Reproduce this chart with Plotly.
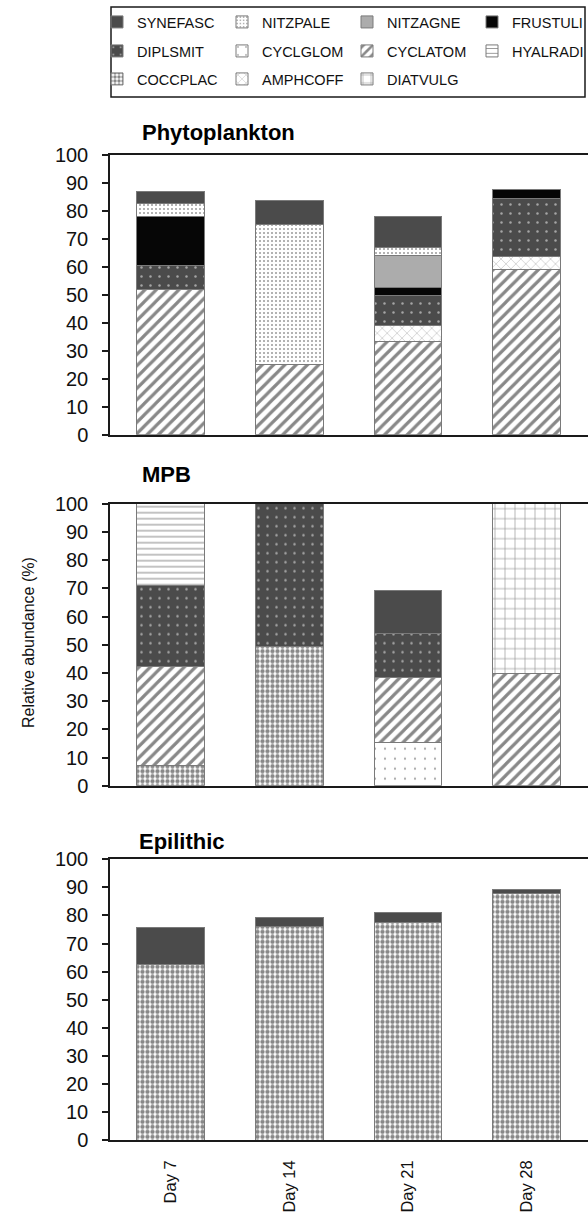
import plotly.graph_objects as go

DAYS = ["Day 7", "Day 14", "Day 21", "Day 28"]

# segment heights (%) per species, bottom-to-top stacking order
STACK_ORDER = ["COCCPLAC", "CYCLGLOM", "CYCLATOM", "AMPHCOFF", "DIPLSMIT",
               "FRUSTULI", "NITZAGNE", "NITZPALE", "SYNEFASC", "HYALRADI", "DIATVULG"]

PHYTO = {
    "CYCLATOM": [52.0, 25.0, 33.4, 59.2],
    "AMPHCOFF": [None, None, 5.6, 4.6],
    "DIPLSMIT": [8.5, None, 10.8, 20.6],
    "FRUSTULI": [17.5, None, 3.0, 3.3],
    "NITZAGNE": [None, None, 11.2, None],
    "NITZPALE": [4.5, 50.0, 2.9, None],
    "SYNEFASC": [4.5, 8.7, 11.1, None],
}
MPB = {
    "COCCPLAC": [7.0, 49.5, None, None],
    "CYCLGLOM": [None, None, 15.4, None],
    "CYCLATOM": [35.3, None, 22.8, 39.7],
    "DIPLSMIT": [28.7, 50.5, 15.7, None],
    "SYNEFASC": [None, None, 15.2, None],
    "HYALRADI": [29.0, None, None, None],
    "DIATVULG": [None, None, None, 60.3],
}
EPI = {
    "COCCPLAC": [62.4, 76.0, 77.6, 87.9],
    "SYNEFASC": [13.3, 3.1, 3.5, 1.2],
}

PANEL_TITLES = ["Phytoplankton", "MPB", "Epilithic"]
Y_TITLE = "Relative abundance (%)"

LEGEND_ROWS = [
    ["SYNEFASC", "NITZPALE", "NITZAGNE", "FRUSTULI"],
    ["DIPLSMIT", "CYCLGLOM", "CYCLATOM", "HYALRADI"],
    ["COCCPLAC", "AMPHCOFF", "DIATVULG"],
]

STYLE = {
    "SYNEFASC": dict(color="#4b4b4b", pattern=dict(shape="")),
    "DIPLSMIT": dict(color="#4b4b4b", pattern=dict(shape=".", fgcolor="white", size=9, solidity=0.06)),
    "COCCPLAC": dict(color="white", pattern=dict(shape=".", fgcolor="#111", size=5, solidity=0.6)),
    "NITZPALE": dict(color="white", pattern=dict(shape=".", fgcolor="#333", size=4, solidity=0.2)),
    "CYCLGLOM": dict(color="white", pattern=dict(shape=".", fgcolor="#555", size=10, solidity=0.04)),
    "AMPHCOFF": dict(color="white", pattern=dict(shape="x", fgcolor="#444", size=7, solidity=0.12)),
    "NITZAGNE": dict(color="#acacac", pattern=dict(shape="")),
    "CYCLATOM": dict(color="white", pattern=dict(shape="/", fgcolor="#111", size=8, solidity=0.4)),
    "DIATVULG": dict(color="white", pattern=dict(shape="+", fgcolor="#333", size=10, solidity=0.14)),
    "FRUSTULI": dict(color="#060606", pattern=dict(shape="")),
    "HYALRADI": dict(color="white", pattern=dict(shape="-", fgcolor="#333", size=6, solidity=0.2)),
}

W, H = 588, 1214
def py(pix):
    return 1 - pix / H

# panel vertical extents in pixels (top=100, bottom=0)
PANEL_PIX = [(155, 434.7), (503.7, 785.7), (859.3, 1140)]

fig = go.Figure()
legend_for = {}
rank_for = {}
for r, row in enumerate(LEGEND_ROWS):
    for c, sp in enumerate(row):
        legend_for[sp] = "legend" if r == 0 else f"legend{r+1}"
        rank_for[sp] = c + 1

for p, data in enumerate([PHYTO, MPB, EPI]):
    ax = "" if p == 0 else str(p + 1)
    for sp in STACK_ORDER:
        vals = data.get(sp)
        if p == 0 and vals is None:
            vals = [None] * 4
        if vals is None:
            continue
        st = STYLE[sp]
        fig.add_trace(go.Bar(
            x=DAYS, y=vals, name=sp, width=0.57,
            xaxis="x" + ax, yaxis="y" + ax,
            legendgroup=sp, showlegend=(p == 0),
            legend=legend_for[sp], legendrank=rank_for[sp],
            marker=dict(color=st["color"], pattern=st["pattern"],
                        line=dict(color="#7a7a7a", width=1)),
        ))

layout = dict(
    width=W, height=H, margin=dict(l=0, r=0, t=0, b=0, autoexpand=False),
    barmode="stack", plot_bgcolor="white", paper_bgcolor="white",
    font=dict(family="Liberation Sans, Arial, sans-serif", color="#111"),
    showlegend=True,
)
for p, (top, bot) in enumerate(PANEL_PIX):
    ax = "" if p == 0 else str(p + 1)
    layout["xaxis" + ax] = dict(
        domain=[110 / W, 1], anchor="y" + ax, type="category",
        range=[-0.51, 3.517], showline=True, mirror=True, linecolor="#1a1a1a",
        linewidth=1.5, showgrid=False, zeroline=False, ticks="",
        showticklabels=(p == 2), tickangle=-90, ticklabelstandoff=12,
        tickfont=dict(size=16.5, color="#111"),
    )
    layout["yaxis" + ax] = dict(
        domain=[py(bot), py(top)], anchor="x" + ax, range=[0, 100], dtick=10,
        showline=True, linecolor="#1a1a1a", linewidth=1.5, showgrid=False,
        zeroline=False, ticks="outside", ticklen=6, tickcolor="#1a1a1a",
        tickwidth=1.5, ticklabelstandoff=10, tickfont=dict(size=20, color="#111"),
    )

row_y = [22, 51, 79]
for r in range(3):
    key = "legend" if r == 0 else f"legend{r+1}"
    layout[key] = dict(
        orientation="h", x=97 / W, xanchor="left", y=py(row_y[r]), yanchor="middle",
        entrywidth=80, entrywidthmode="pixels", bgcolor="rgba(0,0,0,0)",
        font=dict(family="Liberation Sans, Arial", size=14.5, color="#111"),
        traceorder="normal", itemclick=False, itemdoubleclick=False,
    )

fig.update_layout(**layout)

fig.add_shape(type="rect", xref="paper", yref="paper",
              x0=111 / W, x1=585 / W, y0=py(97), y1=py(7),
              line=dict(color="#1a1a1a", width=1.5))

title_y = [132, 474, 841]
title_x = [140, 140, 137]
for t, ty, tx in zip(PANEL_TITLES, title_y, title_x):
    fig.add_annotation(text="<b>" + t + "</b>", xref="paper", yref="paper",
                       x=tx / W, y=py(ty), xanchor="left", yanchor="middle",
                       showarrow=False, font=dict(size=22, color="#000"))

fig.add_annotation(text=Y_TITLE, xref="paper", yref="paper", x=28 / W, y=py(643),
                   xanchor="center", yanchor="middle", textangle=-90,
                   showarrow=False, font=dict(size=16, color="#111"))

fig.write_html("out.html")
